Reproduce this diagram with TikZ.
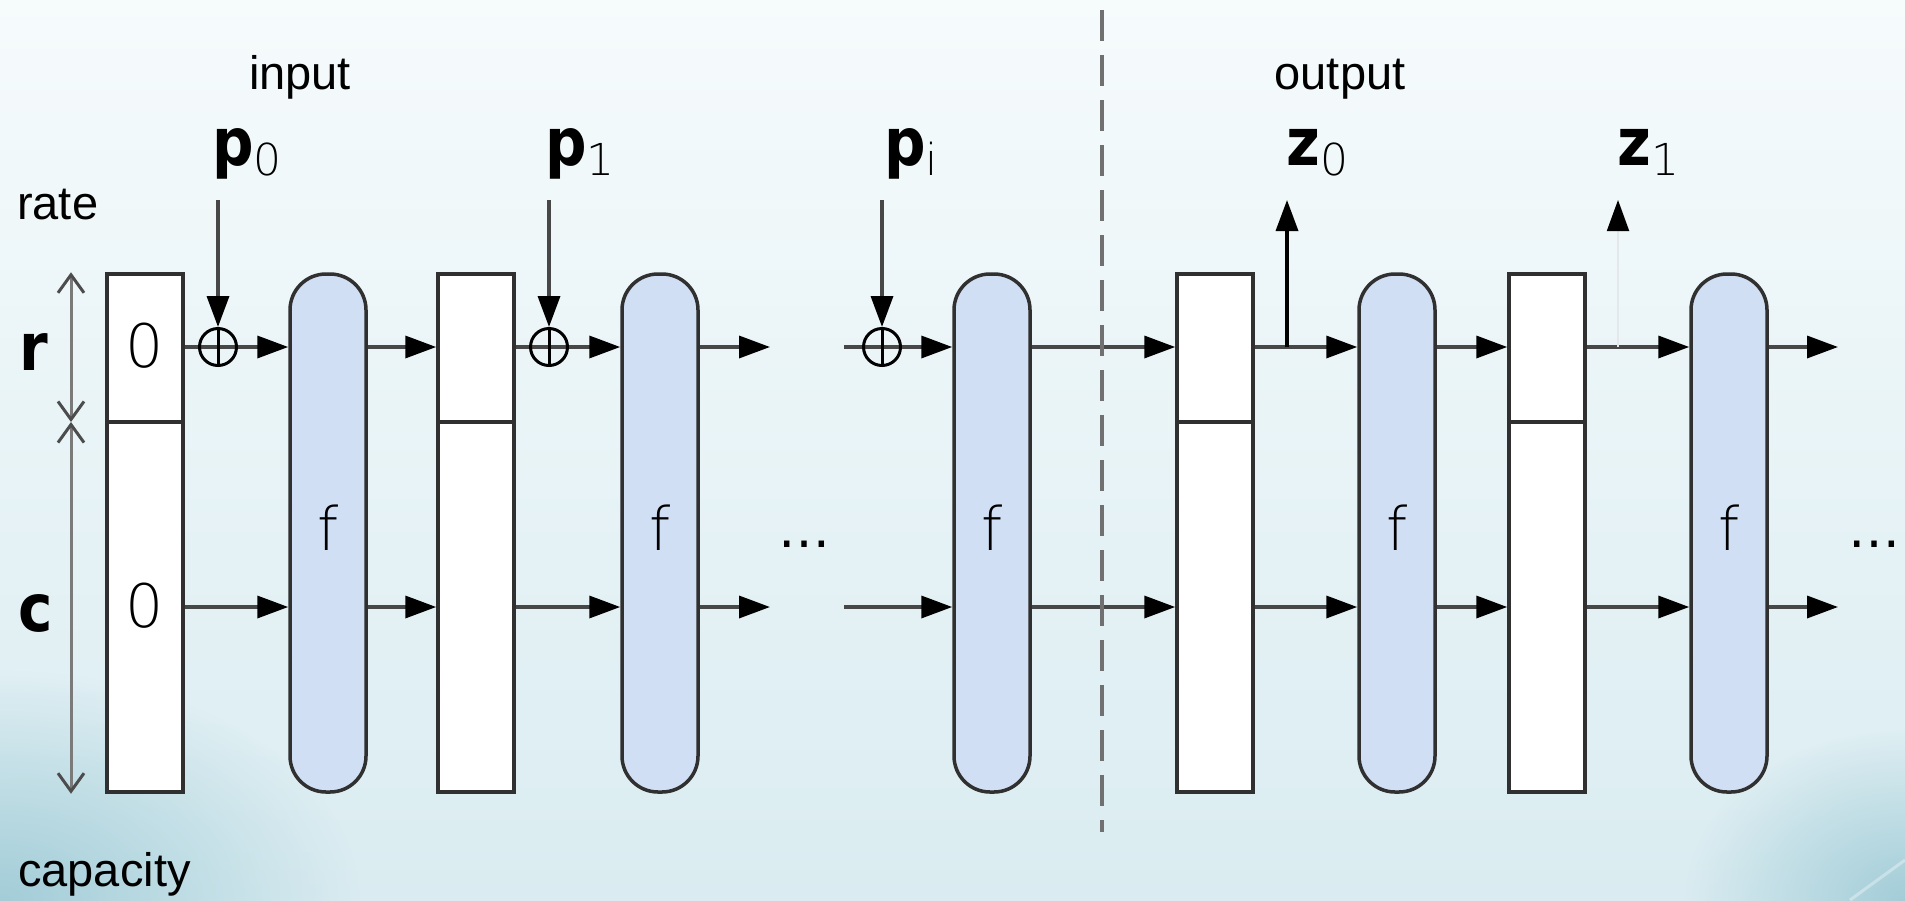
\documentclass[tikz,border=0pt]{standalone}
\usepackage{fontspec}
\usepackage{graphicx}
\setmainfont{Liberation Sans}
\newfontfamily\lblfont{DejaVu Sans}
\IfFontExistsTF{DejaVu Sans ExtraLight}
  {\newfontfamily\thinf{DejaVu Sans ExtraLight}}
  {\newfontfamily\thinf{DejaVu Sans}}
\usetikzlibrary{arrows.meta,fadings}

\definecolor{bgtop}{HTML}{F6FBFC}
\definecolor{bgmid}{HTML}{F1F8FA}
\definecolor{bgbot}{HTML}{DAECF1}
\definecolor{corner}{HTML}{A3CDD8}
\definecolor{ffill}{HTML}{D1DFF5}
\definecolor{edge}{HTML}{303030}
\definecolor{wire}{HTML}{474747}
\definecolor{dashc}{HTML}{707070}
\definecolor{dimc}{HTML}{7A7A7A}
\definecolor{faint}{HTML}{E4E8EA}

\tikzfading[name=glow, inner color=transparent!0, outer color=transparent!100]

% bold (slightly condensed) symbol
\newcommand\bsym[1]{\scalebox{0.88}[1]{\fontsize{66}{66}\lblfont\bfseries #1}}
% bold vector symbol with a light subscript
\newcommand\vsub[2]{\bsym{#1}\raisebox{-10pt}{\fontsize{44}{44}\thinf #2}}

\begin{document}
\begin{tikzpicture}[x=1pt,y=-1pt,
  statebox/.style={draw=edge, line width=3.5pt, fill=white,
    minimum width=76pt, minimum height=518pt, inner sep=0pt},
  perm/.style={draw=edge, line width=3.5pt, fill=ffill,
    minimum width=76pt, minimum height=518pt, inner sep=0pt,
    rounded corners=36pt},
  flow/.style={draw=wire, line width=3.5pt,
    -{Triangle[length=31pt,width=22pt,color=black,fill=black]}},
  xorop/.style={draw=black, line width=3pt, circle, minimum size=37pt, inner sep=0pt},
  dimarrow/.style={draw=dimc, line width=3pt,
    {Straight Barb[length=18pt,width=26pt,color=black!70]}-{Straight Barb[length=18pt,width=26pt,color=black!70]}},
  sep/.style={draw=dashc, line width=4pt, dash pattern=on 31pt off 14pt},
  word/.style={font=\fontsize{47}{50}\selectfont, inner sep=0pt},
  thin/.style={font=\fontsize{60}{60}\thinf, inner sep=0pt, anchor=base},
  ell/.style={font=\fontsize{52}{52}\lblfont, inner sep=0pt, anchor=base},
  sym/.style={inner sep=0pt, anchor=base west}]

% backdrop
\useasboundingbox (0,0) rectangle (1905,900);
\shade[top color=bgtop, middle color=bgmid, bottom color=bgbot] (0,0) rectangle (1905,900);
\fill[corner, path fading=glow] (0,900) ellipse [x radius=360, y radius=230];
\fill[corner, path fading=glow] (1905,900) ellipse [x radius=220, y radius=170];
\draw[white, opacity=0.35, line width=3pt] (1905,860) -- (1850,900);

% reference levels
\coordinate (R) at (0,347);
\coordinate (C) at (0,607);
\coordinate (D) at (0,422);
\coordinate (T) at (0,200);
\coordinate (gapL) at (770,0);
\coordinate (gapR) at (844,0);
\coordinate (endR) at (1838,0);
\coordinate (dimx) at (71,0);

% state registers and permutations
\node[statebox] (b1) at (145,533) {};
\node[perm]     (f1) at (328,533) {};
\node[statebox] (b2) at (476,533) {};
\node[perm]     (f2) at (660,533) {};
\node[perm]     (f3) at (992,533) {};
\node[statebox] (b3) at (1215,533) {};
\node[perm]     (f4) at (1397,533) {};
\node[statebox] (b4) at (1547,533) {};
\node[perm]     (f5) at (1729,533) {};

\foreach \b in {b1,b2,b3,b4}
  \draw[draw=edge, line width=3.5pt] (\b.west |- D) -- (\b.east |- D);

% labels inside the blocks
\node[thin] (zr) at (145,367) {0};
\node[thin] (zc) at (145,627) {0};
\foreach \f in {f1,f2,f3,f4,f5}
  \node[thin] (t\f) at ([yshift=-17pt]\f.center) {f};
\node[ell] (dots1) at (804,547) {…};
\node[ell] (dots2) at (1874,547) {…};

% data paths along the rate and capacity parts
\foreach \y in {R,C}{
  \foreach \a/\b in {b1.east/f1.west, f1.east/b2.west, b2.east/f2.west,
                     f3.east/b3.west, b3.east/f4.west, f4.east/b4.west,
                     b4.east/f5.west}
    \draw[flow] (\a |- \y) -- (\b |- \y);
  \draw[flow] (f2.east |- \y) -- (gapL |- \y);
  \draw[flow] (gapR |- \y) -- (f3.west |- \y);
  \draw[flow] (f5.east |- \y) -- (endR |- \y);
}

% absorbing: xor of the input blocks
\node[xorop] (x0) at (218,347) {};
\node[xorop] (x1) at (549,347) {};
\node[xorop] (x2) at (882,347) {};
\foreach \x in {x0,x1,x2}{
  \draw[black, line width=3pt] (\x.north) -- (\x.south);
  \draw[flow] (\x |- T) -- (\x.north);
}

% squeezing: output taps
\coordinate (tap0) at (1287,347);
\coordinate (tap1) at (1618,347);
\draw[flow, draw=black] (tap0) -- (tap0 |- T);
\draw[flow, draw=faint, line width=2pt] (tap1) -- (tap1 |- T);

% phase separator
\coordinate (sepTop) at (1102,10);
\coordinate (sepBot) at (1102,832);
\draw[sep] (sepTop) -- (sepBot);

% rate / capacity dimensions
\draw[dimarrow] (b1.north -| dimx) -- (D -| dimx);
\draw[dimarrow] (D -| dimx) -- (b1.south -| dimx);

% texts
\node[word, anchor=base] (lin) at (300,89) {input};
\node[word, anchor=base] (lout) at (1340,89) {output};
\node[word, anchor=base west] (lrate) at (17,219) {rate};
\node[word, anchor=base west] (lcap) at (18,886) {capacity};
\node[sym] (lr) at (19,370) {\bsym{r}};
\node[sym] (lc) at (18,631) {\bsym{c}};

\node[sym] (p0) at (212,165) {\vsub{p}{0}};
\node[sym] (p1) at (545,165) {\vsub{p}{1}};
\node[sym] (pi) at (884,165) {\vsub{p}{i}};
\node[sym] (z0) at (1286,165) {\vsub{z}{0}};
\node[sym] (z1) at (1617,165) {\vsub{z}{1}};
\end{tikzpicture}
\end{document}
